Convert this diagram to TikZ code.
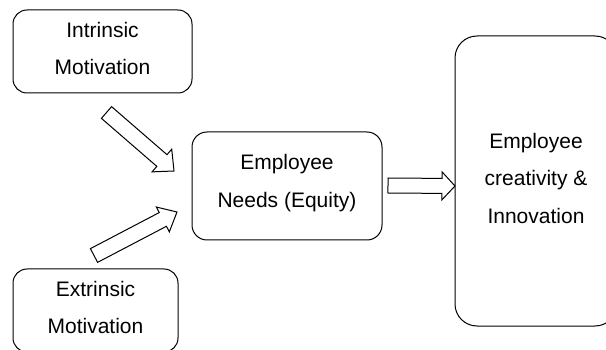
\documentclass[tikz,border=0pt]{standalone}
\usepackage{fontspec}
\setmainfont{Liberation Sans}
\usetikzlibrary{calc}
\newcommand\blockarr[5]{%
  \coordinate (hb) at ($(#2)!#5!(#1)$);
  \draw[arrowline] ($(#1)!#3!90:(#2)$) -- ($(hb)!#3!90:(#2)$) -- ($(hb)!#4!90:(#2)$)
    -- (#2) -- ($(hb)!#4!-90:(#2)$) -- ($(hb)!#3!-90:(#2)$) -- ($(#1)!#3!-90:(#2)$) -- cycle;
}
\begin{document}
\begin{tikzpicture}[x=1pt,y=-1pt,
  box/.style={draw, line width=1pt, rounded corners=#1, align=center, inner sep=0pt,
    font=\fontsize{21}{37.5}\selectfont, text depth=6pt},
  box/.default=14pt,
  arrowline/.style={draw, line width=1pt, fill=white, line join=miter}]
\useasboundingbox (0,0) rectangle (606,350);
\clip (0,0) rectangle (606,350);
\node[box, minimum width=179pt, minimum height=83pt] (intr) at (102.5,51.5) {Intrinsic\\Motivation};
\node[box, minimum width=165pt, minimum height=83pt] (extr) at (95.5,310.5) {Extrinsic\\Motivation};
\node[box=15pt, minimum width=190pt, minimum height=108pt, text depth=10pt] (needs) at (287,186) {Employee\\Needs (Equity)};
\node[box=22pt, minimum width=162pt, minimum height=290pt] (crea) at (536,181) {Employee\\creativity \&\\Innovation};
\coordinate (a1t) at (106.5,112.5);
\coordinate (a1h) at (174,171);
\coordinate (a2t) at (94,255.5);
\coordinate (a2h) at (177,212);
\coordinate (a3t) at (388,185.5);
\coordinate (a3h) at (455,186);
\blockarr{a1t}{a1h}{7.75pt}{15pt}{16pt}
\blockarr{a2t}{a2h}{7.75pt}{14pt}{16pt}
\blockarr{a3t}{a3h}{7.5pt}{14pt}{13pt}
\end{tikzpicture}
\end{document}
